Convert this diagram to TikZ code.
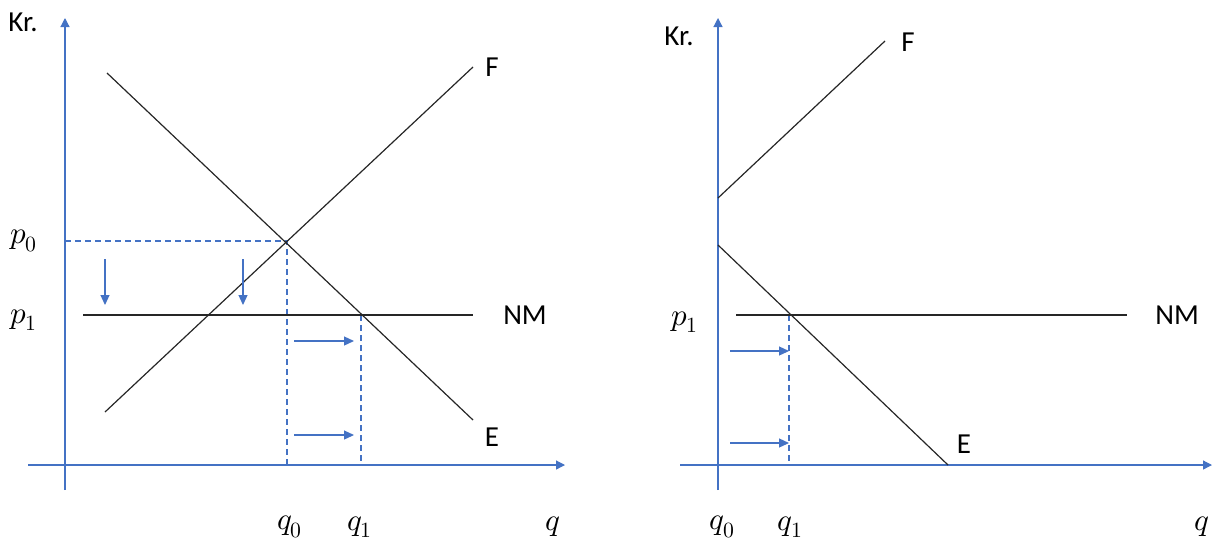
\documentclass[tikz,border=0pt]{standalone}
\usepackage{fontspec}
\usepackage{unicode-math}
\setmainfont{Carlito}
\usetikzlibrary{arrows.meta}
\definecolor{axisblue}{HTML}{4472C4}
\definecolor{ink}{HTML}{262626}
\tikzset{
  axis/.style={-{Triangle[length=4.5pt,width=4.5pt]}, axisblue, line width=0.6pt},
  market/.style={ink, line width=0.6pt},
  guide/.style={axisblue, dash pattern=on 3pt off 2pt, line width=0.6pt},
  push/.style={-{Triangle[length=5pt,width=4.5pt]}, axisblue, line width=0.6pt},
  lbl/.style={font=\fontsize{14.5}{16}\selectfont, inner sep=0pt},
  mlbl/.style={font=\fontsize{15.5}{18}\selectfont, inner sep=0pt},
}

\begin{document}
\begin{tikzpicture}[x=0.5pt, y=-0.5pt]
    \useasboundingbox (0,0) rectangle (1213,542);
    % left panel
    \coordinate (lo) at (65,465);
    \coordinate (lytop) at (65,18);  \coordinate (lybot) at (65,490);
    \coordinate (lxl) at (28,465);   \coordinate (lxr) at (565,465);
    \draw[axis] (lybot) -- (lytop);
    \draw[axis] (lxl) -- (lxr);
    \coordinate (lF0) at (105,412);  \coordinate (lF1) at (473,67);
    \coordinate (lE0) at (107,73);   \coordinate (lE1) at (473,420);
    \coordinate (lN0) at (83,315);   \coordinate (lN1) at (473,315);
    \coordinate (leq) at (287,241);  \coordinate (lnm) at (361,315);
    \draw[guide] (leq -| lo) -- (leq) -- (leq |- lo);
    \draw[guide] (lnm) -- (lnm |- lo);
    \draw[market] (lF0) -- (lF1);
    \draw[market] (lE0) -- (lE1);
    \draw[market] (lN0) -- (lN1);
    \foreach \x [count=\i] in {105,243}
      { \coordinate (ld\i a) at (\x,259); \coordinate (ld\i b) at (\x,305);
        \draw[push] (ld\i a) -- (ld\i b); }
    \foreach \y [count=\i] in {341,435}
      { \coordinate (lr\i a) at (294,\y); \coordinate (lr\i b) at (354,\y);
        \draw[push] (lr\i a) -- (lr\i b); }
    \node[lbl] (lkr) at (23,22) {Kr.};
    \node[lbl] (lflab) at (492,67) {F};
    \node[lbl] (lelab) at (492,437) {E};
    \node[lbl] (lnmlab) at (525,315) {NM};
    \node[mlbl] (lp0) at (24,241) {$p_0$};
    \node[mlbl] (lp1) at (24,320) {$p_1$};
    \node[mlbl] (lq0) at (290,527) {$q_0$};
    \node[mlbl] (lq1) at (360,527) {$q_1$};
    \node[mlbl] (lq) at (553,527) {$q$};
    % right panel
    \coordinate (ro) at (718,465);
    \coordinate (rytop) at (718,18); \coordinate (rybot) at (718,490);
    \coordinate (rxl) at (680,465);  \coordinate (rxr) at (1212,465);
    \draw[axis] (rybot) -- (rytop);
    \draw[axis] (rxl) -- (rxr);
    \coordinate (rF0) at (718,198);  \coordinate (rF1) at (885,41);
    \coordinate (rE0) at (718,245);  \coordinate (rE1) at (948,465);
    \coordinate (rN0) at (736,315);  \coordinate (rN1) at (1127,315);
    \coordinate (rnm) at (789,315);
    \draw[guide] (rnm) -- (rnm |- ro);
    \draw[market] (rF0) -- (rF1);
    \draw[market] (rE0) -- (rE1);
    \draw[market] (rN0) -- (rN1);
    \foreach \y [count=\i] in {351,443}
      { \coordinate (rr\i a) at (730,\y); \coordinate (rr\i b) at (789,\y);
        \draw[push] (rr\i a) -- (rr\i b); }
    \node[lbl] (rkr) at (679,36) {Kr.};
    \node[lbl] (rflab) at (908,42) {F};
    \node[lbl] (relab) at (964,444) {E};
    \node[lbl] (rnmlab) at (1177,315) {NM};
    \node[mlbl] (rp1) at (685,322) {$p_1$};
    \node[mlbl] (rq0) at (722,527) {$q_0$};
    \node[mlbl] (rq1) at (790,527) {$q_1$};
    \node[mlbl] (rq) at (1202,527) {$q$};
  \end{tikzpicture}
\end{document}
